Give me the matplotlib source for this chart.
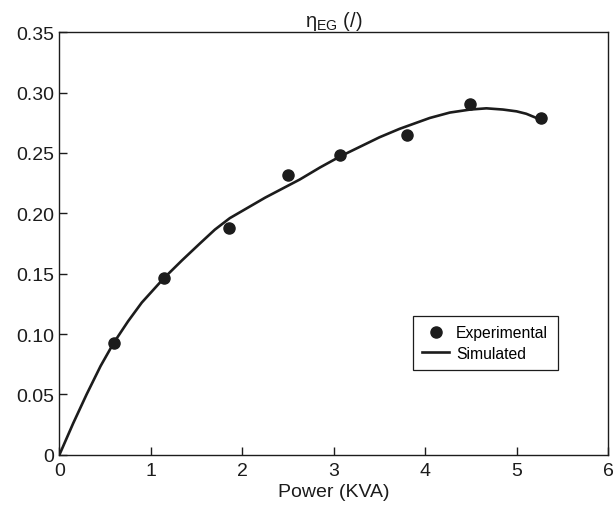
import matplotlib
matplotlib.use("Agg")
import matplotlib.pyplot as plt
from matplotlib.ticker import FixedLocator, FixedFormatter

plt.rcParams['font.family'] = ['Liberation Sans', 'DejaVu Sans']
plt.rcParams['mathtext.fontset'] = 'custom'
plt.rcParams['mathtext.rm'] = 'Liberation Sans'
plt.rcParams['mathtext.it'] = 'Liberation Sans'

exp_x = [0.592, 1.139, 1.855, 2.50, 3.066, 3.80, 4.494, 5.266]
exp_y = [0.0925, 0.146, 0.1875, 0.232, 0.2486, 0.265, 0.291, 0.279]

sim_x = [0, 0.15, 0.297, 0.45, 0.592, 0.75, 0.9, 1.139, 1.34, 1.536, 1.70, 1.863,
         2.25, 2.628, 2.85, 3.066, 3.5, 3.72, 4.05, 4.27, 4.494, 4.67, 4.85, 5.0, 5.106, 5.25]
sim_y = [0, 0.026, 0.05, 0.0735, 0.0925, 0.1105, 0.126, 0.146, 0.161, 0.175, 0.1865, 0.196,
         0.213, 0.228, 0.238, 0.247, 0.263, 0.270, 0.279, 0.2835, 0.286, 0.287, 0.286, 0.2845, 0.2825, 0.278]

xticks = [0, 1, 2, 3, 4, 5, 6]
yticks = [0, 0.05, 0.10, 0.15, 0.20, 0.25, 0.30, 0.35]
ytick_labels = ['0', '0.05', '0.10', '0.15', '0.20', '0.25', '0.30', '0.35']

ink = '#1c1c1c'
fig = plt.figure(figsize=(6.15, 5.10), dpi=100)
ax = fig.add_axes([0.0967, 0.1065, 0.8919, 0.8282])

ax.plot(exp_x, exp_y, 'o', color=ink, markersize=8, label='Experimental')
ax.plot(sim_x, sim_y, '-', color=ink, linewidth=1.9, label='Simulated',
        solid_joinstyle='round')

ax.set_xlim(0, 6)
ax.set_ylim(0, 0.35)
ax.xaxis.set_major_locator(FixedLocator(xticks))
ax.yaxis.set_major_locator(FixedLocator(yticks))
ax.yaxis.set_major_formatter(FixedFormatter(ytick_labels))
ax.tick_params(direction='in', length=6, width=1, labelsize=14, colors=ink)
ax.tick_params(axis='x', pad=5)
ax.tick_params(axis='y', pad=4)
for s in ax.spines.values():
    s.set_linewidth(1.0)
    s.set_color(ink)

ax.set_xlabel('Power (KVA)', fontsize=14, color=ink, labelpad=3)
ax.set_title(r'$\mathregular{\eta_{EG}}$ (/)', fontsize=14.5, color=ink, pad=4)

leg = ax.legend(loc='upper left', bbox_to_anchor=(0.6445, 0.329), fontsize=11.3,
                frameon=True, fancybox=False, edgecolor=ink, framealpha=1,
                handlelength=1.7, handletextpad=0.45, borderpad=0.6, labelspacing=0.35,
                borderaxespad=0)
leg.get_frame().set_linewidth(0.9)

fig.savefig('out.png', dpi=100)
